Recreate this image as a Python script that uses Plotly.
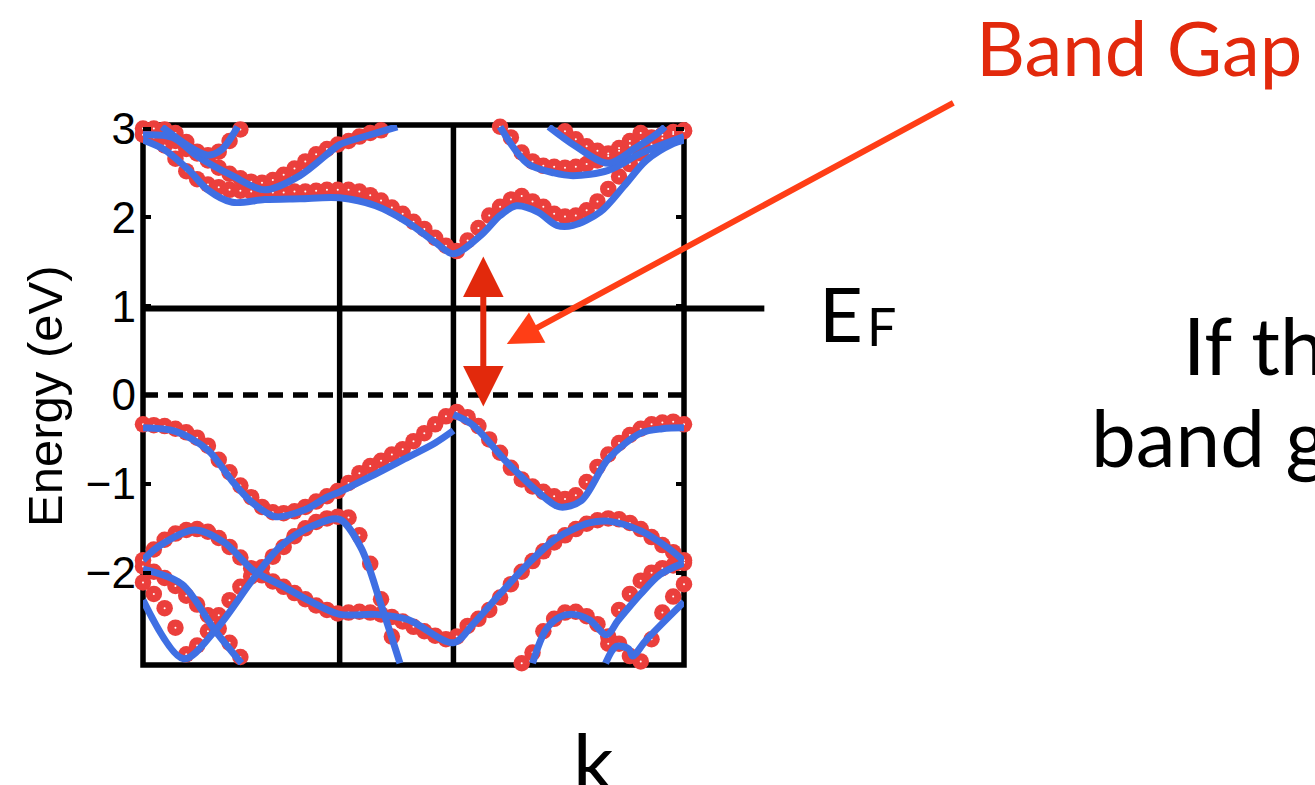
import plotly.graph_objects as go

# ---------------- data ----------------
# k-path coordinate (0..1) of the computed points
k_grid = [0.00, 0.02, 0.04, 0.06, 0.08, 0.10, 0.12, 0.14, 0.16, 0.18,
          0.20, 0.22, 0.24, 0.26, 0.28, 0.30, 0.32, 0.34, 0.36, 0.38,
          0.40, 0.42, 0.44, 0.46, 0.48, 0.50, 0.52, 0.54, 0.56, 0.58,
          0.60, 0.62, 0.64, 0.66, 0.68, 0.70, 0.72, 0.74, 0.76, 0.78,
          0.80, 0.82, 0.84, 0.86, 0.88, 0.90, 0.92, 0.94, 0.96, 0.98, 1.00]

# high-symmetry points (vertical separators)
k_sym = [0.3635, 0.5738]

N = None
# energies (eV) of the computed points (red markers), one list per band
dots_vb1 = [-0.33, -0.34, -0.35, -0.38, -0.42, -0.48, -0.57, -0.73, -0.87, -1.02,
            -1.15, -1.26, -1.32, -1.33, -1.31, -1.26, -1.20, -1.14, -1.08, -0.99,
            -0.88, -0.80, -0.74, -0.67, -0.61, -0.52, -0.43, -0.33, -0.24, -0.19,
            -0.25, -0.35, -0.50, -0.65, -0.82, -0.95, -1.03, -1.09, -1.14, -1.17,
            -1.13, -0.98, -0.81, -0.67, -0.54, -0.45, -0.38, -0.33, -0.31, -0.30, -0.33]
dots_vb2 = [-1.86, -1.74, -1.63, -1.56, -1.52, -1.51, -1.54, -1.61, -1.71, -1.83,
            -1.95, -2.03, -2.10, -2.16, -2.23, -2.30, -2.37, -2.42, -2.46, -2.45,
            -2.44, -2.45, -2.47, -2.50, -2.55, -2.61, -2.66, -2.71, -2.75, -2.72,
            -2.60, -2.52, -2.42, -2.28, -2.13, -1.99, -1.87, -1.76, -1.66, -1.58,
            -1.51, -1.45, -1.41, -1.39, -1.40, -1.44, -1.51, -1.60, -1.69, -1.77, -1.86]
dots_vb3 = [-1.93, -1.99, -2.06, -2.15, -2.26, -2.36, -2.48, -2.63, -2.79, -2.95,
            N, N, N, N, N, N, N, N, N, N,
            N, N, N, N, N, N, N, N, N, N,
            N, N, N, N, N, N, N, N, N, N,
            N, N, N, N, N, N, N, N, N, N, N]
dots_vb4 = [-2.11, -2.24, -2.40, -2.62, -2.92, -2.82, -2.66, -2.48, -2.31, -2.16,
            -2.04, -1.94, -1.82, -1.71, -1.59, -1.50, -1.43, -1.39, -1.37, -1.38,
            -1.58, -1.90, -2.30, -2.72, N, N, N, N, N, N,
            N, N, N, N, N, N, N, N, N, N,
            N, N, N, N, N, N, N, N, N, N, N]
dots_vb5 = [N, N, N, N, N, N, N, N, N, N,
            N, N, N, N, N, N, N, N, N, N,
            N, N, N, N, N, N, N, N, N, N,
            N, N, N, N, N, -3.02, -2.90, -2.66, -2.52, -2.45,
            -2.44, -2.49, -2.58, -2.72, -2.42, -2.24, -2.09, -2.00, -1.95, -1.92, -1.89]
dots_vb6 = [N, N, N, N, N, N, N, N, N, N,
            N, N, N, N, N, N, N, N, N, N,
            N, N, N, N, N, N, N, N, N, N,
            N, N, N, N, N, N, N, N, N, N,
            N, N, N, -2.80, -2.80, -2.94, -3.00, -2.75, -2.45, -2.27, -2.13]
dots_cb1 = [2.93, 2.90, 2.81, 2.66, 2.52, 2.43, 2.37, 2.34, 2.31, 2.30,
            2.29, 2.29, 2.28, 2.28, 2.29, 2.29, 2.30, 2.31, 2.31, 2.31,
            2.29, 2.25, 2.19, 2.11, 2.04, 1.95, 1.87, 1.77, 1.68, 1.62,
            1.74, 1.88, 2.02, 2.12, 2.20, 2.24, 2.18, 2.12, 2.04, 2.01,
            2.02, 2.08, 2.18, 2.32, 2.46, 2.60, 2.72, 2.82, 2.89, 2.94, 2.97]
dots_cb2 = [3.00, 3.00, 2.99, 2.95, 2.85, 2.74, 2.64, 2.56, 2.49, 2.44,
            2.40, 2.39, 2.42, 2.48, 2.55, 2.63, 2.71, 2.77, 2.82, 2.86,
            2.91, 2.95, 2.98, N, N, N, N, N, N, N,
            N, N, N, N, N, N, N, N, N, N,
            N, N, N, N, N, N, N, N, N, N, N]
dots_cb3 = [N, N, 2.98, 2.86, 2.77, 2.72, 2.70, 2.74, 2.86, 2.99,
            N, N, N, N, N, N, N, N, N, N,
            N, N, N, N, N, N, N, N, N, N,
            N, N, N, N, N, N, N, N, N, N,
            N, N, N, N, N, N, N, N, N, N, N]
dots_cb4 = [N, N, N, N, N, N, N, N, N, N,
            N, N, N, N, N, N, N, N, N, N,
            N, N, N, N, N, N, N, N, N, N,
            N, N, N, 3.02, 2.90, 2.73, 2.63, 2.58, 2.57, 2.56,
            2.57, 2.60, 2.64, 2.69, 2.75, 2.81, 2.86, 2.90, 2.93, 2.96, 2.98]
dots_cb5 = [N, N, N, N, N, N, N, N, N, N,
            N, N, N, N, N, N, N, N, N, N,
            N, N, N, N, N, N, N, N, N, N,
            N, N, N, N, N, N, N, N, N, 2.97,
            2.88, 2.80, 2.75, 2.72, 2.78, 2.86, 2.95, N, N, N, N]

dot_bands = [dots_vb1, dots_vb2, dots_vb3, dots_vb4, dots_vb5, dots_vb6,
             dots_cb1, dots_cb2, dots_cb3, dots_cb4, dots_cb5]

# fitted bands (blue curves): knots (k, E)
fit_vb1a_k = [0.0, 0.06, 0.12, 0.165, 0.20, 0.245, 0.30, 0.34, 0.3635, 0.42, 0.48, 0.54, 0.5738]
fit_vb1a_e = [-0.37, -0.41, -0.62, -0.97, -1.20, -1.37, -1.29, -1.15, -1.09, -0.92, -0.73, -0.54, -0.40]
fit_vb1b_k = [0.5738, 0.61, 0.67, 0.73, 0.77, 0.81, 0.86, 0.92, 0.96, 1.0]
fit_vb1b_e = [-0.22, -0.34, -0.74, -1.09, -1.26, -1.19, -0.72, -0.43, -0.38, -0.37]
fit_vb2_k = [0.0, 0.03, 0.095, 0.15, 0.205, 0.255, 0.305, 0.3635, 0.43, 0.49, 0.5738,
             0.61, 0.66, 0.71, 0.765, 0.825, 0.86, 0.92, 0.97, 1.0]
fit_vb2_e = [-1.86, -1.70, -1.52, -1.66, -1.98, -2.14, -2.31, -2.47, -2.47, -2.53, -2.79,
             -2.58, -2.24, -1.91, -1.61, -1.44, -1.42, -1.53, -1.72, -1.87]
fit_vb3_k = [0.0, 0.072, 0.133, 0.182]
fit_vb3_e = [-1.96, -2.13, -2.65, -3.02]
fit_vb4_k = [0.0, 0.075, 0.135, 0.205, 0.255, 0.315, 0.3635, 0.403, 0.44, 0.475]
fit_vb4_e = [-2.31, -2.97, -2.64, -2.06, -1.70, -1.47, -1.40, -1.72, -2.36, -3.02]
fit_vb5_k = [0.72, 0.745, 0.77, 0.795, 0.825, 0.857, 0.878, 0.92, 0.956, 1.0]
fit_vb5_e = [-3.02, -2.64, -2.50, -2.47, -2.53, -2.70, -2.54, -2.24, -2.02, -1.89]
fit_vb6_k = [0.855, 0.875, 0.898, 0.905, 0.93, 1.0]
fit_vb6_e = [-3.02, -2.83, -2.86, -2.94, -2.76, -2.33]
fit_cb1_k = [0.0, 0.04, 0.085, 0.12, 0.165, 0.225, 0.29, 0.3635, 0.43, 0.49, 0.54, 0.5738,
             0.625, 0.66, 0.69, 0.73, 0.765, 0.795, 0.845, 0.89, 0.93, 0.98, 1.0]
fit_cb1_e = [2.87, 2.76, 2.53, 2.31, 2.17, 2.20, 2.21, 2.22, 2.13, 1.94, 1.72, 1.59,
             1.80, 2.02, 2.13, 2.06, 1.91, 1.91, 2.06, 2.36, 2.64, 2.83, 2.87]
fit_cb2_k = [0.0, 0.055, 0.10, 0.165, 0.225, 0.29, 0.35, 0.3635, 0.42, 0.47]
fit_cb2_e = [2.93, 2.90, 2.69, 2.47, 2.31, 2.47, 2.76, 2.82, 2.93, 3.02]
fit_cb3_k = [0.035, 0.09, 0.12, 0.145, 0.175]
fit_cb3_e = [3.02, 2.78, 2.70, 2.76, 3.02]
fit_cb4_k = [0.66, 0.71, 0.76, 0.795, 0.86, 0.92, 1.0]
fit_cb4_e = [3.02, 2.61, 2.50, 2.47, 2.53, 2.72, 2.91]
fit_cb5_k = [0.75, 0.80, 0.86, 0.91, 0.95, 0.965]
fit_cb5_e = [3.02, 2.80, 2.61, 2.78, 2.94, 3.02]

fit_bands = [(fit_vb1a_k, fit_vb1a_e), (fit_vb1b_k, fit_vb1b_e), (fit_vb2_k, fit_vb2_e),
             (fit_vb3_k, fit_vb3_e), (fit_vb4_k, fit_vb4_e), (fit_vb5_k, fit_vb5_e),
             (fit_vb6_k, fit_vb6_e), (fit_cb1_k, fit_cb1_e), (fit_cb2_k, fit_cb2_e),
             (fit_cb3_k, fit_cb3_e), (fit_cb4_k, fit_cb4_e), (fit_cb5_k, fit_cb5_e)]

# reference levels (eV)
e_valence_top = 0.0
e_fermi = 0.975
# band-gap double arrow
gap_k = 0.629
gap_top = 1.56
gap_bottom = -0.146

y_ticks = [-2, -1, 0, 1, 2, 3]
y_range = [-3.04, 3.04]

# ---------------- styling ----------------
RED = "#eb3f3c"
BLUE = "#3f6fe3"
ARROW_RED = "#e2290c"
POINTER = "#ff3e16"
TEXT_FONT = "Lato"
AXIS_FONT = "Liberation Sans, Arial, sans-serif"

fig = go.Figure()

for band in dot_bands:
    fig.add_trace(go.Scatter(
        x=k_grid, y=band, mode="markers", cliponaxis=False, hoverinfo="skip",
        marker=dict(size=16.5, color=RED, line=dict(width=0)), showlegend=False))
for band in dot_bands:
    fig.add_trace(go.Scatter(
        x=k_grid, y=band, mode="markers", cliponaxis=False, hoverinfo="skip",
        marker=dict(size=2, color="white", line=dict(width=0)), showlegend=False))
for ks, es in fit_bands:
    fig.add_trace(go.Scatter(
        x=ks, y=es, mode="lines", hoverinfo="skip", showlegend=False,
        line=dict(color=BLUE, width=7, shape="spline", smoothing=0.9)))

shapes = [
    dict(type="rect", xref="paper", yref="paper", x0=0, x1=1, y0=0, y1=1,
         line=dict(color="black", width=5.5), layer="below"),
    dict(type="line", xref="paper", yref="y", x0=0, x1=1, y0=e_valence_top, y1=e_valence_top,
         line=dict(color="black", width=5.5, dash="15px,10px"), layer="below"),
    dict(type="line", xref="paper", yref="y", x0=0, x1=1.1485, y0=e_fermi, y1=e_fermi,
         line=dict(color="black", width=6), layer="above"),
]
for ks in k_sym:
    shapes.append(dict(type="line", xref="x", yref="paper", x0=ks, x1=ks, y0=0, y1=1,
                       line=dict(color="black", width=5.5), layer="below"))

annotations = [
    # double-headed gap arrow
    dict(x=gap_k, y=gap_top, ax=gap_k, ay=gap_bottom, xref="x", yref="y",
         axref="x", ayref="y", text="", showarrow=True, arrowside="end+start",
         arrowhead=2, startarrowhead=2, arrowsize=1.35, startarrowsize=1.35,
         arrowwidth=6, arrowcolor=ARROW_RED),
    # pointer from the label
    dict(x=0.6725, y=0.5943, xref="paper", yref="paper", ax=448, ay=-242,
         text="", showarrow=True, arrowhead=2, arrowsize=1.15, arrowwidth=6,
         arrowcolor=POINTER),
    dict(x=1.536, y=1.145, xref="paper", yref="paper", xanchor="left", yanchor="middle",
         text="Band Gap", showarrow=False,
         font=dict(family=TEXT_FONT, size=76, color=ARROW_RED)),
    dict(x=1.2463, y=0.652, xref="paper", yref="paper", xanchor="left", yanchor="middle",
         text="E", showarrow=False, font=dict(family=TEXT_FONT, size=76, color="black")),
    dict(x=1.335, y=0.6275, xref="paper", yref="paper", xanchor="left", yanchor="middle",
         text="F", showarrow=False, font=dict(family=TEXT_FONT, size=52, color="black")),
    dict(x=1.918, y=0.594, xref="paper", yref="paper", xanchor="left", yanchor="middle",
         text="If the", showarrow=False, font=dict(family=TEXT_FONT, size=80, color="black")),
    dict(x=1.748, y=0.4242, xref="paper", yref="paper", xanchor="left", yanchor="middle",
         text="band gap", showarrow=False, font=dict(family=TEXT_FONT, size=80, color="black")),
    dict(x=0.7907, y=-0.1765, xref="paper", yref="paper", xanchor="left", yanchor="middle",
         text="k", showarrow=False, font=dict(family=TEXT_FONT, size=80, color="black")),
    dict(x=-0.1815, y=0.498, xref="paper", yref="paper", xanchor="center", yanchor="middle",
         text="Energy (eV)", textangle=-90, showarrow=False,
         font=dict(family=AXIS_FONT, size=49, color="black")),
]

fig.update_layout(
    width=1315, height=785,
    margin=dict(l=142.5, r=630.5, t=124.5, b=119.5, pad=0),
    paper_bgcolor="white", plot_bgcolor="rgba(0,0,0,0)",
    shapes=shapes, annotations=annotations,
    xaxis=dict(range=[0, 1], showticklabels=False, ticks="", showgrid=False,
               zeroline=False, showline=False, fixedrange=True),
    yaxis=dict(range=y_range, tickvals=y_ticks, ticks="inside", ticklen=8, tickwidth=4,
               tickcolor="black", mirror="ticks", showline=False, showgrid=False,
               zeroline=False, ticklabelstandoff=6,
               tickfont=dict(family=AXIS_FONT, size=44, color="black")),
)

fig.write_html("out.html")
